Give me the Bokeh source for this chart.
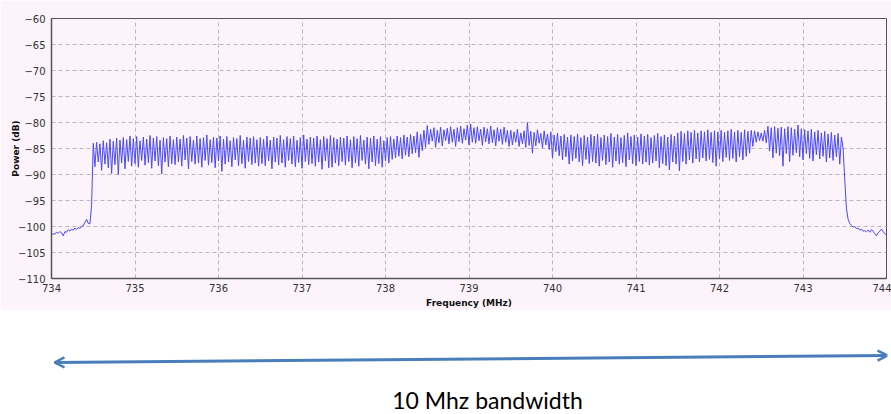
from bokeh.plotting import figure
from bokeh.models import Range1d, FixedTicker, Arrow, OpenHead, Label, ColumnDataSource
from bokeh.layouts import column
from bokeh.embed import file_html
from bokeh.resources import INLINE

# ---- data ----
F_START = 734.0      # MHz, first frequency bin
F_STEP = 0.02        # MHz between bins

# 734.00 .. 734.48 MHz (out of band, left)
noise_left = [-101.6, -101.4, -101.5, -101.1, -101.3, -101.0, -101.2, -101.8, -101.0, -101.1,
              -100.6, -100.9, -100.5, -100.7, -100.3, -100.6, -100.2, -100.4, -100.0, -99.9,
              -99.2, -98.6, -99.4, -99.5, -96.0]

# 734.50 .. 743.48 MHz (occupied band), one block per MHz
band = [
    -84.0, -88.5, -83.8, -87.6, -84.1, -89.2, -83.5, -88.0, -83.9, -88.7, -83.2, -89.8, -83.6, -88.1, -83.0, -90.0, -83.4, -87.8, -82.9, -88.9,
    -83.3, -87.5, -82.6, -88.4, -83.1, -87.9, -82.7, -88.6, -83.5, -87.3, -82.8, -88.2, -83.2, -87.7, -82.5, -88.8, -83.0, -87.4, -82.7, -88.3,
    -83.4, -89.9, -82.9, -87.6, -83.1, -88.5, -82.6, -87.9, -83.3, -88.1,

    -82.8, -87.6, -83.2, -88.4, -82.5, -87.2, -83.0, -88.9, -82.7, -87.5, -83.4, -88.0, -82.6, -87.8, -83.1, -88.6, -82.9, -87.3, -82.4, -88.2,
    -83.3, -87.7, -82.8, -88.7, -83.0, -87.4, -82.6, -89.4, -83.2, -88.0, -82.7, -87.6, -83.5, -88.5, -82.9, -87.2, -83.1, -88.3, -82.5, -87.9,
    -83.4, -88.8, -82.8, -87.5, -83.0, -88.1, -82.7, -87.8, -83.3, -88.4,

    -82.9, -87.9, -83.2, -88.3, -82.6, -87.4, -83.4, -88.9, -82.8, -87.6, -83.0, -88.2, -82.5, -87.8, -83.3, -88.6, -82.7, -87.3, -83.1, -88.0,
    -82.6, -88.5, -83.4, -87.7, -82.9, -88.8, -82.4, -87.5, -83.2, -88.1, -82.8, -87.9, -83.0, -88.4, -82.6, -87.6, -83.3, -89.0, -82.7, -87.4,
    -83.1, -88.7, -82.5, -88.6, -82.9, -87.8, -83.2, -88.3, -82.8, -87.5,

    -83.0, -88.2, -82.6, -87.5, -83.3, -88.7, -82.7, -87.8, -83.1, -88.4, -82.5, -87.3, -83.4, -88.0, -82.8, -88.9, -83.0, -87.6, -82.6, -88.3,
    -83.2, -87.9, -82.7, -88.6, -83.5, -87.4, -82.9, -87.8, -82.7, -87.1, -83.2, -86.8, -82.6, -86.5, -82.9, -87.0, -82.4, -86.3, -82.8, -86.6,
    -82.3, -86.0, -82.6, -85.8, -81.8, -86.7, -82.2, -85.4, -81.5, -84.8,

    -80.6, -84.2, -81.3, -83.6, -81.0, -84.8, -81.5, -83.9, -80.9, -84.5, -81.4, -83.5, -81.1, -84.1, -80.8, -83.8, -81.3, -84.6, -81.0, -83.7,
    -80.7, -84.0, -81.2, -83.4, -80.5, -84.3, -80.3, -83.8, -81.0, -84.0, -80.8, -83.5, -81.3, -84.4, -80.9, -83.7, -81.2, -84.1, -80.7, -83.9,
    -81.4, -84.5, -81.0, -83.6, -81.3, -84.2, -80.9, -83.8, -81.5, -84.6,

    -81.5, -84.3, -81.8, -83.8, -81.3, -84.6, -82.0, -84.1, -81.6, -84.8, -80.0, -84.4, -81.7, -85.9, -81.9, -84.5, -81.4, -84.0, -82.1, -84.9,
    -81.6, -84.3, -82.2, -85.2, -81.8, -86.8, -82.4, -85.6, -82.0, -86.4, -82.6, -87.2, -82.3, -86.6, -82.8, -88.0, -82.4, -87.4, -82.7, -86.9,
    -82.2, -87.6, -82.9, -88.3, -82.5, -87.1, -82.8, -87.9, -82.3, -87.5,

    -82.6, -87.8, -82.2, -88.4, -82.9, -87.3, -82.4, -88.1, -82.7, -87.6, -82.1, -88.6, -82.8, -87.4, -82.3, -88.0, -82.9, -87.7, -82.5, -88.5,
    -82.0, -87.2, -82.7, -87.9, -82.4, -88.3, -82.8, -87.5, -82.2, -88.0, -82.6, -87.6, -82.3, -88.2, -82.9, -87.8, -82.5, -87.4, -82.1, -88.7,
    -82.7, -87.9, -82.4, -88.3, -82.8, -89.1, -82.3, -87.6, -82.6, -88.0,

    -82.0, -89.3, -81.7, -87.5, -82.1, -88.0, -81.6, -87.2, -81.9, -87.8, -81.5, -87.0, -82.0, -87.6, -81.6, -86.8, -81.8, -87.4, -81.4, -87.1,
    -81.9, -87.7, -81.6, -88.4, -81.8, -87.0, -81.5, -87.5, -81.9, -86.7, -81.6, -87.3, -81.3, -86.9, -81.8, -87.6, -81.5, -86.6, -81.9, -87.2,
    -81.4, -86.5, -81.7, -85.9, -81.5, -84.6, -81.6, -83.8, -81.8, -83.5,

    -82.0, -83.6, -81.5, -83.9, -80.7, -85.5, -81.0, -86.8, -80.8, -85.9, -81.1, -86.4, -80.9, -88.4, -81.2, -86.0, -80.8, -87.5, -81.0, -86.3,
    -81.3, -85.8, -80.5, -86.6, -81.2, -87.2, -81.4, -86.0, -81.6, -86.9, -81.3, -87.4, -81.8, -86.2, -81.5, -87.0, -82.0, -86.5, -81.7, -87.6,
    -82.2, -86.8, -81.9, -87.3, -82.4, -86.6, -82.1, -88.0, -82.8, -85.0,
]

# 743.50 .. 744.00 MHz (out of band, right)
noise_right = [-91.0, -96.5, -98.6, -99.4, -99.8, -100.1, -100.0, -100.4, -100.3, -100.7,
               -100.5, -100.9, -100.8, -101.0, -100.7, -101.1, -100.6, -100.9, -101.4, -101.8,
               -101.2, -100.9, -100.5, -101.0, -101.4, -101.6]

x_ticks = [734, 735, 736, 737, 738, 739, 740, 741, 742, 743, 744]
y_ticks = [-110, -105, -100, -95, -90, -85, -80, -75, -70, -65, -60]

caption = "10 Mhz bandwidth"

power = noise_left + band + noise_right
freq = [round(F_START + F_STEP * i, 4) for i in range(len(power))]
src = ColumnDataSource(data=dict(freq=freq, power=power))

PINK = "#fdf3fb"
FONT = "DejaVu Sans"
TRACE = "#4848ff"

# common horizontal frame geometry (screen px)
BL, FW, BR = 51, 835, 5

p = figure(frame_width=FW, frame_height=260,
           x_range=Range1d(x_ticks[0], x_ticks[-1]), y_range=Range1d(y_ticks[0], y_ticks[-1]),
           output_backend="svg", toolbar_location=None,
           min_border_left=BL, min_border_right=BR, min_border_top=18, min_border_bottom=32)
p.background_fill_color = PINK
p.border_fill_color = PINK
p.outline_line_color = "#555555"
p.outline_line_width = 1

trace = p.line("freq", "power", source=src, line_color=TRACE, line_width=1)

for ax in (p.xaxis[0], p.yaxis[0]):
    ax.major_tick_out = 0
    ax.major_tick_in = 0
    ax.minor_tick_out = 0
    ax.minor_tick_in = 0
    ax.axis_line_color = "#555555"
    ax.axis_line_width = 1.5
    ax.major_label_text_font = FONT
    ax.major_label_text_font_size = "10px"
    ax.major_label_text_color = "#333333"
    ax.axis_label_text_font = FONT
    ax.axis_label_text_font_size = "9px"
    ax.axis_label_text_font_style = "bold"
    ax.axis_label_text_color = "#111111"

p.xaxis.ticker = FixedTicker(ticks=x_ticks)
p.yaxis.ticker = FixedTicker(ticks=y_ticks)
p.xaxis.axis_label = "Frequency (MHz)"
p.yaxis.axis_label = "Power (dB)"
p.xaxis.major_label_standoff = 5
p.xaxis.axis_label_standoff = 3
p.yaxis.major_label_standoff = 6
p.yaxis.axis_label_standoff = -6

p.grid.grid_line_color = "#bdb6bd"
p.grid.grid_line_dash = "4 3"
p.grid.grid_line_width = 1

# ---- caption panel below (x range in page pixels over the same frame) ----
H2 = 104
q = figure(frame_width=FW, height=H2, x_range=Range1d(BL, BL + FW), y_range=Range1d(0, H2),
           output_backend="svg", toolbar_location=None,
           x_axis_type=None, y_axis_type=None,
           min_border_left=BL, min_border_right=BR, min_border_top=0, min_border_bottom=0)
q.outline_line_color = None
q.grid.visible = False
q.background_fill_color = "white"
q.border_fill_color = "white"

ARROW_COLOR = "#4a7ebb"
q.add_layout(Arrow(start=OpenHead(size=10, line_color=ARROW_COLOR, line_width=2.5),
                   end=OpenHead(size=10, line_color=ARROW_COLOR, line_width=2.5),
                   x_start=54, y_start=52, x_end=887, y_end=59,
                   line_color=ARROW_COLOR, line_width=3))
q.add_layout(Label(x=487, y=15, text=caption, text_align="center", text_baseline="middle",
                   text_font="Lato", text_font_size="23px", text_color="#000000"))

layout = column(p, q, spacing=0)
open("out.html", "w").write(file_html(layout, INLINE))
